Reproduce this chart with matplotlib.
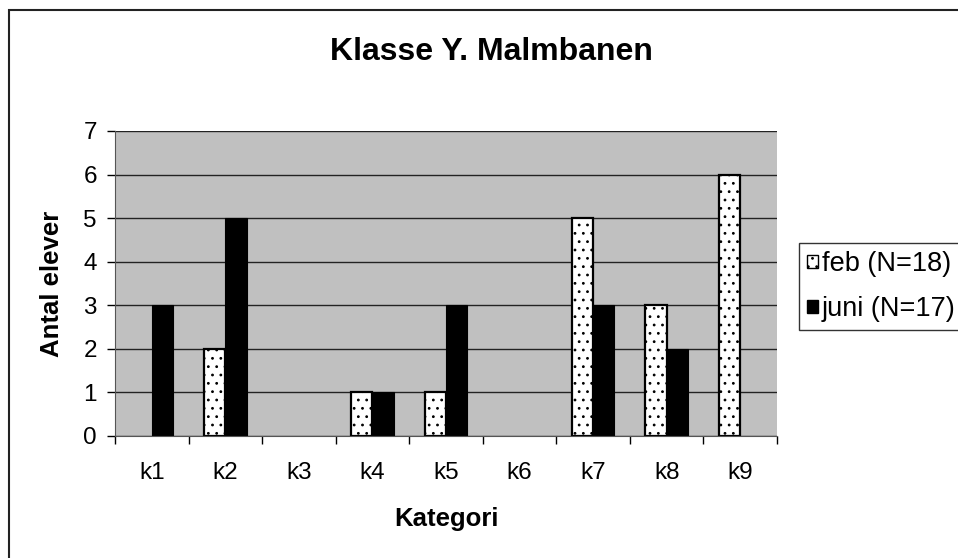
import matplotlib
matplotlib.use("Agg")
import matplotlib.pyplot as plt
import numpy as np
from matplotlib.patches import Rectangle, Patch

plt.rcParams['font.family'] = ['Liberation Sans', 'DejaVu Sans']
plt.rcParams['hatch.linewidth'] = 0.8

categories = ["k1", "k2", "k3", "k4", "k5", "k6", "k7", "k8", "k9"]
feb = [0, 2, 0, 1, 1, 0, 5, 3, 6]
juni = [3, 5, 0, 1, 3, 0, 3, 2, 0]
series_labels = ["feb (N=18)", "juni (N=17)"]

fig = plt.figure(figsize=(9.58, 5.58), dpi=100)

# outer frame (clipped at right/bottom like the original)
fig.patches.append(Rectangle((9 / 958, -0.1), 1.2, 0.1 + (558 - 10) / 558,
                             transform=fig.transFigure, fill=False,
                             edgecolor="#222222", linewidth=1.5))

ax = fig.add_axes([115 / 958, 122 / 558, 662 / 958, 305 / 558])
ax.set_facecolor("#c0c0c0")

x = np.arange(len(categories))
w = 0.29
ax.set_axisbelow(True)
ax.yaxis.grid(True, color="#222222", linewidth=1.0)

b1 = ax.bar(x - w / 2, feb, w, color="white", edgecolor="black",
            linewidth=1.6, hatch="..")
b2 = ax.bar(x + w / 2, juni, w, color="black", edgecolor="black",
            linewidth=0.8)
# no outline for zero-height bars
for bars, vals in ((b1, feb), (b2, juni)):
    for r, v in zip(bars, vals):
        if v == 0:
            r.set_visible(False)

ax.set_xlim(-0.5, len(categories) - 0.5)
ax.set_ylim(0, 7)
ax.set_yticks(range(0, 8))
ax.set_xticks(np.arange(-0.5, len(categories), 1.0))
ax.set_xticklabels([])
ax.set_xticks(x, minor=True)
ax.set_xticklabels(categories, minor=True)
ax.tick_params(axis="x", which="major", length=6, width=1, color="black", direction="out")
ax.tick_params(axis="x", which="minor", length=0, pad=19, labelsize=17.5)
ax.tick_params(axis="y", length=6, width=1, direction="out", labelsize=17.5, pad=7)

for s in ["top", "right"]:
    ax.spines[s].set_visible(False)
ax.spines["left"].set_color("#555555")
ax.spines["bottom"].set_color("#555555")

ax.set_ylabel("Antal elever", fontsize=18.5, fontweight="bold")
ax.yaxis.set_label_coords((52 - 115) / 662, 0.5)
ax.yaxis.label.set_va("center")
ax.set_xlabel("Kategori", fontsize=18.5, fontweight="bold")
ax.xaxis.set_label_coords(0.5, (436 - 519) / 305)
ax.xaxis.label.set_va("center")
fig.text(491 / 958, 1 - 52 / 558, "Klasse Y. Malmbanen", ha="center", va="center",
         fontsize=23, fontweight="bold")

handles = [Patch(facecolor="white", edgecolor="black", hatch="..", linewidth=1.0),
           Patch(facecolor="black", edgecolor="black")]
leg = fig.legend(handles=handles, labels=series_labels,
                 loc="upper left", bbox_to_anchor=(799 / 958, 1 - 243 / 558),
                 fontsize=19.5, frameon=True, fancybox=False, edgecolor="black",
                 handlelength=0.4, handleheight=0.4, handletextpad=0.15,
                 borderpad=0.3, labelspacing=0.7, borderaxespad=0)
leg.get_frame().set_linewidth(1.0)

fig.savefig("out.png", dpi=100)
